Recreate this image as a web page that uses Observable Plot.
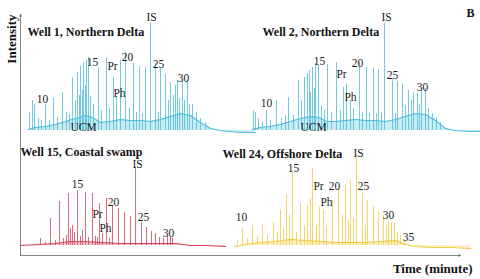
<!DOCTYPE html>
<html><head><meta charset="utf-8">
<script src="https://cdn.jsdelivr.net/npm/d3@7"></script>
<script src="https://cdn.jsdelivr.net/npm/@observablehq/plot@0.6"></script>
<style>
html,body{margin:0;padding:0;background:#fff;}
#fig{position:relative;width:480px;height:279px;overflow:hidden;background:#fff;}
#fig svg{position:absolute;overflow:visible;}
</style></head><body><div id="fig"></div>
<script>
// Titles
const wellTitles = ["Well 1, Northern Delta", "Well 2, Northern Delta", "Well 15, Coastal swamp", "Well 24, Offshore Delta"];

// Peaks: [retention time (min), relative intensity]
const well1Peaks = [[2.25,18],[3,30],[3.5,26],[4.5,12],[5.25,10],[6.25,26],[7.25,10],[8.25,33],[9.25,13],[10.5,38],[11.5,18],[12.25,16],[13,53],[13.75,30],[14.25,58],[14.75,35],[15,64],[15.5,40],[15.75,68],[16.25,45],[16.5,70],[17,73],[17.5,34],[18.25,26],[19.5,63],[20.25,20],[21.5,73],[22.25,22],[23.25,53],[24,34],[25,70],[26.25,78],[27.25,22],[28.25,67],[29,18],[29.75,64],[30.5,17],[31.25,63],[32.5,108],[33.75,67],[34.5,18],[35,62],[36.25,56],[37,30],[37.5,48],[38.25,35],[38.75,45],[39.25,50],[39.75,32],[40.5,50],[41,30],[41.75,50],[42.25,26],[43,26],[44,18],[45,12],[46.25,8]];
const well2Peaks = [[3.25,20],[3.75,18],[4.5,12],[5.5,8],[6.5,20],[7.5,10],[9,30],[10.25,12],[11.25,15],[12,33],[13.25,15],[14.5,50],[15.25,30],[16,53],[16.75,57],[17.25,60],[17.5,38],[18,63],[18.5,42],[18.75,67],[19.5,65],[20.25,25],[21,20],[21.75,66],[22.75,18],[24,68],[25,20],[25.75,43],[26.5,46],[27.5,30],[28.25,22],[29.75,68],[30.5,18],[31.5,63],[32.25,17],[33.25,62],[34,17],[34.5,61],[35.25,18],[36,107],[38,52],[38.75,17],[39.25,49],[40.5,46],[41.25,25],[42,40],[42.75,30],[43.25,38],[44.25,37],[44.75,26],[45.25,42],[46.25,42],[47,22],[48,17],[49,12],[50,8]];
const well15Peaks = [[5,7],[6.25,3],[7.5,27],[8.75,5],[9.75,44],[10.75,7],[11.5,10],[12,52],[12.5,17],[13,20],[13.5,13],[14.25,55],[15,9],[15.5,15],[16.25,53],[17,8],[18,52],[18.75,9],[19.25,8],[19.75,42],[20.5,12],[21.5,47],[22.25,7],[23,40],[24.5,37],[26,33],[27.5,29],[28.75,78],[30.25,23],[31.5,18],[32.75,14],[33.75,12],[34.75,8],[35.75,7],[36.75,9],[37.5,8],[38,7]];
const well24Peaks = [[1.75,5],[3,17],[4.25,7],[5.5,20],[6.75,9],[8,21],[9.25,10],[10.75,23],[11.75,13],[12.5,35],[13.25,17],[14,51],[14.75,30],[15.5,73],[16.5,13],[17.5,42],[18.5,20],[19.25,40],[20,47],[20.5,77],[21.5,20],[22.25,38],[23.25,35],[24,20],[25.5,45],[27,57],[28,30],[28.75,59],[29.5,25],[30,65],[30.75,27],[31.5,88],[33,52],[33.75,20],[34.25,45],[35.75,39],[37,34],[38.25,30],[39,20],[39.5,25],[40.25,23],[41,22],[41.75,13],[42.5,10],[43.5,5]];

// Unresolved complex mixture (hump) outline: [time, intensity]
const well1Hump = [[2,1],[3.75,3],[6.25,4],[8.75,6],[11.25,9],[13.75,12],[16.25,15],[18,13],[20,8],[22.5,9],[25,11],[27.5,10],[30,10],[32.5,9],[35,11],[37.5,14],[40,17],[42.5,15],[45,8],[47.5,2],[50,0],[55,-2],[58.75,-2]];
const well2Hump = [[3,1],[5,3],[7.5,4],[10,6],[12.5,9],[15,12],[17.5,14],[19.5,13],[21.5,9],[23.75,9],[26.25,10],[28.75,11],[31.25,10],[33.75,10],[36.25,9],[38.75,11],[41.25,14],[43.75,17],[46.25,16],[48.75,10],[51.25,2],[53.75,0],[57.5,-1],[60,-1]];
const well15Hump = [[0,0],[5,1],[8.75,2],[12.5,4],[16.25,4],[20,3],[25,2],[30,2],[35,2],[38.75,2],[42.5,0],[46.25,0],[51.25,-1]];
const well24Hump = [[1,-1],[3.75,1],[7.5,3],[11.25,4],[15,6],[18.75,5],[22.5,4],[26.25,3],[30,3],[33.75,3],[37.5,4],[41.25,5],[43.75,1],[46.25,-1],[50,-2],[55,-2],[60,-3]];

// Peak annotations: [label, time, intensity]
const well1Labels = [["IS",32.75,113],["10",5.5,31],["15",18,68],["Pr",23,64],["Ph",24.75,37],["20",26.75,73],["25",34.5,66],["30",40.75,52],["UCM",15.75,3]];
const well2Labels = [["IS",36.5,113],["10",6.5,27],["15",19.75,69],["Pr",25.25,56],["Ph",27.5,33],["20",29.25,67],["25",38,55],["30",45.5,43],["UCM",18.25,3]];
const well15Labels = [["IS",29.25,81],["15",14.25,61],["Pr",19.25,31],["Ph",21.25,17],["20",23.25,43],["25",30.75,28],["30",37,12]];
const well24Labels = [["IS",32,92],["10",2.75,28],["15",15.75,77],["Pr",22,59],["Ph",24,43],["20",26,59],["25",33.25,59],["30",39.5,30],["35",44.5,8]];

const wellColors = ["#4dbcdb", "#4dbcdb", "#d6445c", "#f2ca40"];

const serif = "'Liberation Serif', 'Times New Roman', serif";
const fig = document.getElementById("fig");

function panel(peaks, hump, labels, title, color, left, top, tdx, tdy) {
  const P = peaks.map(([t, i]) => ({t, i}));
  const H = hump.map(([t, i]) => ({t, i}));
  const L = labels.map(([text, t, i]) => ({text, t, i}));
  const svg = Plot.plot({
    width: 240, height: 135, margin: 0,
    x: {domain: [0, 60], axis: null},
    y: {domain: [-10, 125], axis: null},
    style: {background: "transparent", overflow: "visible"},
    marks: [
      Plot.areaY(H, {x: "t", y: "i", fill: color, fillOpacity: 0.3, curve: "linear"}),
      Plot.lineY(H, {x: "t", y: "i", stroke: color, strokeWidth: 1.1, curve: "linear"}),
      Plot.ruleX(P, {x: "t", y1: 0, y2: "i", stroke: color, strokeWidth: 0.8}),
      Plot.text(L, {x: "t", y: "i", text: "text", fontFamily: serif, fontSize: 11.5, fill: "#1a1a1a"}),
      Plot.text([title], {frameAnchor: "top-left", text: d => d, textAnchor: "start", lineAnchor: "middle", dx: tdx, dy: tdy, fontFamily: serif, fontSize: 12, fontWeight: "bold", fill: "#111"})
    ]
  });
  svg.style.left = left + "px";
  svg.style.top = top + "px";
  fig.appendChild(svg);
}

panel(well1Peaks, well1Hump, well1Labels, wellTitles[0], wellColors[0], 20, 5, 7, 27);
panel(well2Peaks, well2Hump, well2Labels, wellTitles[1], wellColors[1], 240, 5, 22, 27);
panel(well15Peaks, well15Hump, well15Labels, wellTitles[2], wellColors[2], 20, 120, 0, 32);
panel(well24Peaks, well24Hump, well24Labels, wellTitles[3], wellColors[3], 230, 120, -8, 34);

// Figure axes (arrows) and labels
const frame = Plot.plot({
  width: 480, height: 279,
  marginLeft: 20, marginRight: 20, marginTop: 14, marginBottom: 24,
  x: {domain: [0, 1], axis: null},
  y: {domain: [0, 1], axis: null},
  style: {background: "transparent", overflow: "visible"},
  marks: [
    Plot.arrow([{x1: 0, y1: 0, x2: 1, y2: 0}, {x1: 0, y1: 0, x2: 0, y2: 1}], {x1: "x1", y1: "y1", x2: "x2", y2: "y2", stroke: "#666", strokeWidth: 0.8, headLength: 4}),
    Plot.text(["Intensity"], {x: 0, y: 1, text: d => d, rotate: -90, textAnchor: "end", dx: -9, fontFamily: serif, fontSize: 13, fontWeight: "bold", fill: "#111"}),
    Plot.text(["Time (minute)"], {x: 1, y: 0, text: d => d, textAnchor: "end", dx: 12, dy: 13, fontFamily: serif, fontSize: 13, fontWeight: "bold", fill: "#111"}),
    Plot.text(["B"], {x: 1, y: 1, text: d => d, dx: 10, dy: -1, fontFamily: serif, fontSize: 12, fontWeight: "bold", fill: "#111"})
  ]
});
frame.style.left = "0px";
frame.style.top = "0px";
fig.appendChild(frame);
</script>
</body></html>
